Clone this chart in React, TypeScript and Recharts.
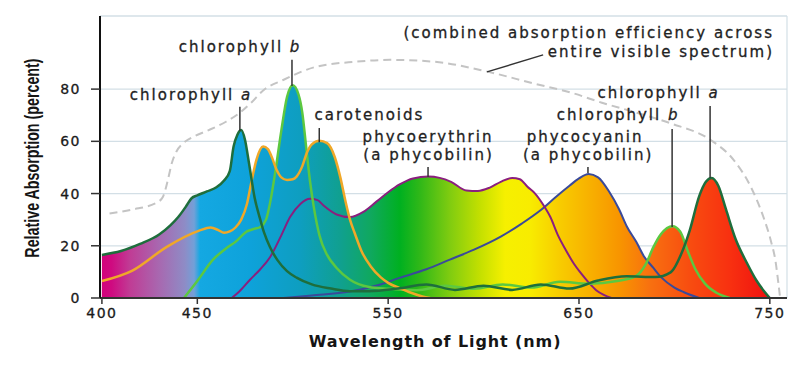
import React from "react";
import {
  ComposedChart,
  Area,
  Line,
  XAxis,
  YAxis,
  CartesianGrid,
  ReferenceLine,
  ReferenceDot,
} from "recharts";

type P = [number, number];

// ---------- data ----------
const wavelengthTicks = [400, 450, 550, 650, 750];
const absorptionTicks = [0, 20, 40, 60, 80];

const chlorophyllA: P[] = [
  [400, 16.5], [410, 18], [420, 20.7], [430, 24.3], [436, 27.9], [440, 31], [444, 35],
  [447, 38.2], [450, 39.3], [455, 40.8], [460, 42.4], [464, 45], [467, 48.6], [469, 58],
  [471, 62.5], [473, 64.3], [475, 60.5], [477, 52], [480, 38.5], [483, 30], [485, 25],
  [488, 19.6], [492, 14.5], [497, 10.3], [502, 7.8], [510, 5.2], [520, 3.6], [530, 2.6],
  [540, 2.6], [555, 3.6], [570, 5.2], [585, 3.1], [600, 4.7], [615, 3.1], [630, 5.2],
  [645, 3.6], [660, 6.7], [675, 8.3], [690, 8], [698, 9.8], [704, 17.6], [708, 25.8],
  [713, 39], [716.5, 44.5], [719.5, 46], [723, 43], [727, 34], [732, 22.7], [738, 13.4],
  [743, 6.7], [747, 2.6], [750, 0],
];

const chlorophyllB: P[] = [
  [443, 0], [450, 6.5], [458, 14.5], [465, 19], [470, 21.5], [476, 25.5], [480, 26.5],
  [483, 27.2], [486, 30], [488, 36], [491, 49], [494, 64], [497, 77], [500, 81.5],
  [503, 78], [505, 71], [507, 58], [509, 45], [511, 35], [514, 24], [518, 16.5],
  [523, 11.5], [530, 7], [540, 4.2], [550, 3.5], [565, 3], [580, 4.7], [595, 3.5],
  [610, 5.2], [625, 4], [640, 6.2], [655, 5.5], [670, 6.5], [680, 8.5], [685, 13],
  [689, 19.5], [693, 24.5], [699, 27.5], [703, 25.5], [707, 18], [711, 11], [716, 5.5],
  [722, 2], [729, 0],
];

const carotenoids: P[] = [
  [400, 6.5], [416, 10.5], [434, 19.6], [451, 25.8], [457, 27], [461, 26], [464, 25],
  [467, 25.5], [470, 27], [473, 30], [476, 36], [478.5, 45], [481, 53], [484.5, 58],
  [487, 57], [489, 54], [491.6, 49], [494, 46.2], [497, 45.2], [500, 45.5], [502, 46.5],
  [505, 50.5], [507.3, 55.4], [510, 58.8], [514, 60.2], [518, 59.3], [522, 54],
  [525, 46], [527.5, 37.5], [530, 30], [532.5, 24.8], [536, 18], [541, 12], [546, 8],
  [550, 5.8], [556, 3.8], [562, 2], [568, 0.6], [572, 0],
];

const phycoerythrin: P[] = [
  [468, 0], [472, 2.5], [477.6, 7], [483, 11], [488, 15.5], [494, 24], [498.6, 31],
  [504, 36], [509, 38], [513, 37.5], [516, 35.5], [523, 32], [530, 31], [537, 33],
  [544, 37], [550, 40.5], [556, 43.5], [563, 45.8], [571, 46.5], [577, 46], [583, 44.5],
  [591, 41.2], [597, 41], [603, 42.2], [609, 44.5], [615, 46], [619, 45.5], [623, 42.6],
  [627, 40], [631, 36], [635, 31], [639, 24], [643, 18.5], [647, 13.5], [651, 9.5],
  [655, 6], [659, 3], [663, 1.2], [667, 0],
];

const phycocyanin: P[] = [
  [495, 0], [510, 1], [530, 2.5], [545, 5], [556, 7.7], [570, 11], [582, 14.6],
  [595, 18.5], [609, 23.5], [620, 28.5], [630, 33.7], [638, 38.8], [645, 43],
  [650, 45.8], [655, 47.5], [660, 46.2], [666, 40.5], [671, 34], [675, 27.5],
  [680, 21.5], [684, 16], [689, 11.5], [693, 8], [700, 4], [705, 2.2], [713, 0],
];

const combinedEfficiency: P[] = [
  [404, 32.4], [416, 33.9], [428.7, 36.5], [432, 38.8], [434.5, 45], [436.6, 51.6],
  [439, 56], [442.7, 59.3], [448, 61.8], [455, 64], [465, 67.5], [472, 70.8],
  [478.5, 75], [484.5, 79.5], [495, 83.5], [512, 88.5], [533, 90.5], [551, 91.2],
  [574, 90.5], [602, 86.7], [626, 82.2], [647, 78.4], [662, 74.8], [680, 71],
  [698, 66.9], [719, 60.5], [731, 52.9], [740, 42.6], [746.6, 31.1], [750.5, 22],
  [753, 14], [754.5, 5.6], [755.4, 0],
];

// visible-spectrum colours by wavelength (nm)
const spectrumStops: [number, string][] = [
  [399, "#d4007a"], [405, "#cf0a80"], [414.7, "#c03c95"], [430, "#a868b0"],
  [443.5, "#8e8cc6"], [448.3, "#72a0d8"], [451.4, "#14a8e2"], [477.6, "#0ea2da"],
  [503.8, "#0e9ec0"], [524.8, "#10a090"], [540.5, "#10a860"], [556.2, "#00b020"],
  [566.7, "#30b818"], [582.4, "#80cc10"], [598.2, "#c4e000"], [611.3, "#f6f000"],
  [624.4, "#f8ec00"], [640, "#f8cc00"], [655.9, "#f8b000"], [671.6, "#f89400"],
  [687.4, "#f87010"], [708.4, "#f84c10"], [729.3, "#f83010"], [750.3, "#ee1010"],
  [759, "#e80c10"],
];

// annotation labels: [wavelength, absorption, text, italic suffix, anchor]
const annotationLabels: [number, number, string, string, string][] = [
  [472.4, 96.1, "chlorophyll ", "b", "middle"],
  [446.7, 77.7, "chlorophyll ", "a", "middle"],
  [540.2, 70.1, "carotenoids", "", "middle"],
  [570.9, 61.7, "phycoerythrin", "", "middle"],
  [571.2, 54.8, "(a phycobilin)", "", "middle"],
  [653.2, 61.7, "phycocyanin", "", "middle"],
  [654.8, 54.8, "(a phycobilin)", "", "middle"],
  [670.5, 70.1, "chlorophyll ", "b", "middle"],
  [691.7, 78.5, "chlorophyll ", "a", "middle"],
  [752.2, 101.5, "(combined absorption efficiency across", "", "end"],
  [752.2, 94.2, "entire visible spectrum)", "", "end"],
];

// pointer lines: [x1, y1, x2, y2] in wavelength / absorption
const pointerLines: [number, number, number, number][] = [
  [499.6, 91.2, 499.6, 81.2],
  [472.3, 73.2, 472.3, 64],
  [513.9, 65.1, 513.9, 59.7],
  [570.9, 50.2, 570.9, 46.3],
  [654.7, 50.2, 654.7, 47.9],
  [698.8, 64.7, 698.8, 27.2],
  [718.7, 73.5, 718.7, 46],
  [601.8, 86.6, 631.2, 93.1],
];

const xTitle = "Wavelength of Light (nm)";
const yTitle = "Relative Absorption (percent)";

// ---------- helpers ----------
const toPts = (a: P[]) => a.map(([x, y]) => ({ x, y }));

const X_DOMAIN: [number, number] = [399, 759];
const Y_DOMAIN: [number, number] = [0, 108];

const ANN_FONT = "'DejaVu Sans', Verdana, sans-serif";

const fillSeries = [chlorophyllA, chlorophyllB, carotenoids, phycoerythrin, phycocyanin];

const AnnText = (props: any) => {
  const { cx, cy, text, ital, anchor } = props;
  return (
    <text
      x={cx}
      y={cy}
      textAnchor={anchor}
      dominantBaseline="central"
      fontFamily={ANN_FONT}
      fontSize={15}
      letterSpacing={2}
      fill="#222"
      stroke="#222"
      strokeWidth={0.3}
    >
      {text}
      {ital ? <tspan fontStyle="italic">{ital}</tspan> : null}
    </text>
  );
};

const XTitleShape = (props: any) => (
  <text
    x={props.cx}
    y={props.cy}
    textAnchor="middle"
    dominantBaseline="central"
    fontFamily="'DejaVu Sans', sans-serif"
    fontWeight="bold"
    fontSize={16}
    letterSpacing={0.9}
    fill="#151515"
  >
    {xTitle}
  </text>
);

const YTitleShape = (props: any) => (
  <text
    x={0}
    y={0}
    transform={`translate(${props.cx} ${props.cy}) rotate(-90) scale(0.68 1)`}
    textAnchor="middle"
    dominantBaseline="central"
    fontFamily="'Liberation Sans', Arial, sans-serif"
    fontWeight="bold"
    fontSize={21}
    fill="#151515"
  >
    {yTitle}
  </text>
);

const tickStyle = {
  fill: "#1a1a1a",
  stroke: "#1a1a1a",
  strokeWidth: 0.3,
  fontSize: 14,
  fontFamily: ANN_FONT,
  letterSpacing: 1.5,
};

export default function App() {
  const plotLeft = 92;
  const plotRight = 779;
  return (
    <div style={{ width: 800, height: 360 }}>
      <ComposedChart
        width={800}
        height={360}
        margin={{ top: 8, right: 21, bottom: 40, left: 12 }}
      >
        <defs>
          <linearGradient
            id="spectrum"
            gradientUnits="userSpaceOnUse"
            x1={plotLeft}
            x2={plotRight}
            y1={0}
            y2={0}
          >
            {spectrumStops.map(([nm, c], i) => (
              <stop
                key={i}
                offset={(nm - X_DOMAIN[0]) / (X_DOMAIN[1] - X_DOMAIN[0])}
                stopColor={c}
              />
            ))}
          </linearGradient>
        </defs>
        <CartesianGrid vertical={false} stroke="#d3dfe6" strokeWidth={1.2} />
        <XAxis
          type="number"
          dataKey="x"
          domain={X_DOMAIN}
          ticks={wavelengthTicks}
          allowDataOverflow
          height={30}
          tickSize={6}
          tickMargin={4}
          axisLine={{ stroke: "#333", strokeWidth: 2 }}
          tickLine={{ stroke: "#333", strokeWidth: 1.5 }}
          tick={tickStyle}
        />
        <YAxis
          type="number"
          domain={Y_DOMAIN}
          ticks={absorptionTicks}
          allowDataOverflow
          width={80}
          tickSize={9}
          tickMargin={10}
          axisLine={{ stroke: "#111", strokeWidth: 2 }}
          tickLine={{ stroke: "#333", strokeWidth: 1.5 }}
          tick={tickStyle}
        />
        <ReferenceLine y={Y_DOMAIN[1]} stroke="#d3dfe6" strokeWidth={1.2} />
        <ReferenceLine x={X_DOMAIN[1]} stroke="#d3dfe6" strokeWidth={1.2} />

        {fillSeries.map((s, i) => (
          <Area
            key={"fill" + i}
            type="monotone"
            data={toPts(s)}
            dataKey="y"
            stroke="none"
            fill="url(#spectrum)"
            fillOpacity={1}
            isAnimationActive={false}
            activeDot={false}
          />
        ))}

        <Line
          type="monotone"
          data={toPts(combinedEfficiency)}
          dataKey="y"
          stroke="#c4c4c4"
          strokeWidth={2}
          strokeDasharray="8 5"
          dot={false}
          activeDot={false}
          isAnimationActive={false}
        />
        <Line
          type="monotone"
          data={toPts(phycocyanin)}
          dataKey="y"
          stroke="#3a4a9a"
          strokeWidth={2}
          dot={false}
          activeDot={false}
          isAnimationActive={false}
        />
        <Line
          type="monotone"
          data={toPts(phycoerythrin)}
          dataKey="y"
          stroke="#8a1f7e"
          strokeWidth={2}
          dot={false}
          activeDot={false}
          isAnimationActive={false}
        />
        <Line
          type="monotone"
          data={toPts(chlorophyllB)}
          dataKey="y"
          stroke="#5cc840"
          strokeWidth={2.5}
          dot={false}
          activeDot={false}
          isAnimationActive={false}
        />
        <Line
          type="monotone"
          data={toPts(carotenoids)}
          dataKey="y"
          stroke="#f0a828"
          strokeWidth={2.5}
          dot={false}
          activeDot={false}
          isAnimationActive={false}
        />
        <Line
          type="monotone"
          data={toPts(chlorophyllA)}
          dataKey="y"
          stroke="#1e6e3c"
          strokeWidth={2.5}
          dot={false}
          activeDot={false}
          isAnimationActive={false}
        />

        {pointerLines.map(([x1, y1, x2, y2], i) => (
          <ReferenceLine
            key={"ptr" + i}
            segment={[
              { x: x1, y: y1 },
              { x: x2, y: y2 },
            ]}
            stroke="#333"
            strokeWidth={1.5}
            ifOverflow="visible"
          />
        ))}

        {annotationLabels.map(([x, y, text, ital, anchor], i) => (
          <ReferenceDot
            key={"lab" + i}
            x={x}
            y={y}
            r={0}
            ifOverflow="visible"
            shape={(p: any) => (
              <AnnText cx={p.cx} cy={p.cy} text={text} ital={ital} anchor={anchor} />
            )}
          />
        ))}

        <ReferenceDot
          x={574.6}
          y={-16.5}
          r={0}
          ifOverflow="visible"
          shape={(p: any) => <XTitleShape cx={p.cx} cy={p.cy} />}
        />
        <ReferenceDot
          x={363.4}
          y={53.6}
          r={0}
          ifOverflow="visible"
          shape={(p: any) => <YTitleShape cx={p.cx} cy={p.cy} />}
        />
      </ComposedChart>
    </div>
  );
}
